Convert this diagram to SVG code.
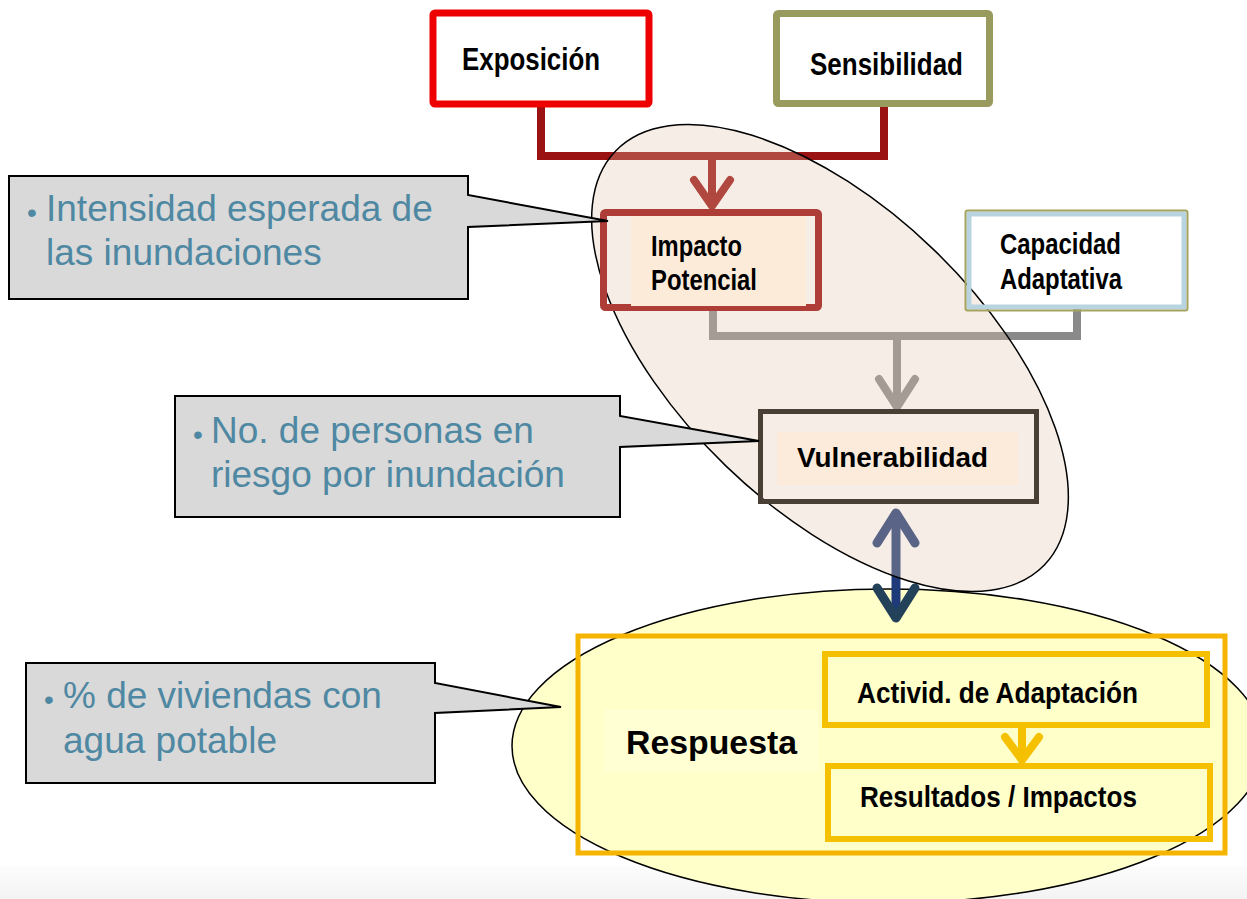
<svg xmlns="http://www.w3.org/2000/svg" width="1247" height="899" viewBox="0 0 1247 899">
<defs>
<style>
.lbl{font-family:"Liberation Sans",Arial,sans-serif;font-weight:bold;fill:#000}
.note{font-family:"Liberation Sans",Arial,sans-serif;fill:#4f88a2;font-size:37px}
.bul{font-family:"Liberation Sans",Arial,sans-serif;fill:#4f88a2;font-size:28px}
.callout{fill:#d9d9d9;stroke:#000;stroke-width:2}
.conn{fill:none;stroke-linejoin:miter}
.box{fill:none}
</style>
<linearGradient id="band" x1="0" y1="0" x2="0" y2="1">
<stop offset="0" stop-color="#fcfcfc"/>
<stop offset="1" stop-color="#f3f3f3"/>
</linearGradient>
<marker id="mRed" markerUnits="userSpaceOnUse" viewBox="-40 -30 60 60" markerWidth="60" markerHeight="60" refX="-4" refY="0" orient="auto" overflow="visible">
<path d="M-26,-18 L0,0 L-26,18" fill="none" stroke="#9b1212" stroke-width="8" stroke-linecap="round" stroke-linejoin="round"/>
</marker>
<marker id="mGray" markerUnits="userSpaceOnUse" viewBox="-40 -30 60 60" markerWidth="60" markerHeight="60" refX="-4" refY="0" orient="auto" overflow="visible">
<path d="M-28,-18 L0,0 L-28,18" fill="none" stroke="#8a8a8a" stroke-width="8" stroke-linecap="round" stroke-linejoin="round"/>
</marker>
<marker id="mNavyTop" markerUnits="userSpaceOnUse" viewBox="-40 -30 60 60" markerWidth="60" markerHeight="60" refX="-4" refY="0" orient="auto-start-reverse" overflow="visible">
<path d="M-30,-19 L0,0 L-30,19" fill="none" stroke="#1f3a78" stroke-width="9" stroke-linecap="round" stroke-linejoin="round"/>
</marker>
<marker id="mNavyBot" markerUnits="userSpaceOnUse" viewBox="-40 -30 60 60" markerWidth="60" markerHeight="60" refX="-4" refY="0" orient="auto" overflow="visible">
<path d="M-30,-19 L0,0 L-30,19" fill="none" stroke="#23425a" stroke-width="9" stroke-linecap="round" stroke-linejoin="round"/>
</marker>
<marker id="mYellow" markerUnits="userSpaceOnUse" viewBox="-40 -30 60 60" markerWidth="60" markerHeight="60" refX="-3" refY="0" orient="auto" overflow="visible">
<path d="M-23,-17 L0,0 L-23,17" fill="none" stroke="#f5c000" stroke-width="8" stroke-linecap="round" stroke-linejoin="round"/>
</marker>
</defs>

<rect x="0" y="866" width="1247" height="33" fill="url(#band)"/>

<ellipse id="zona-respuesta" cx="888" cy="746" rx="376" ry="157" fill="#ffffc9" stroke="#000" stroke-width="1.5"/>

<g id="connectors">
<path class="conn" d="M541,104 V156 H884 V104" stroke="#9b1212" stroke-width="8"/>
<path class="conn" d="M712,156 V202" stroke="#9b1212" stroke-width="8" marker-end="url(#mRed)"/>
<path class="conn" d="M713,309 V336 H1077 V309" stroke="#8a8a8a" stroke-width="8"/>
<path class="conn" d="M897,336 V403" stroke="#8a8a8a" stroke-width="8" marker-end="url(#mGray)"/>
<path class="conn" d="M896,517 V614" stroke="#1f3a78" stroke-width="9" marker-start="url(#mNavyTop)" marker-end="url(#mNavyBot)"/>
<path class="conn" d="M1022,728 V757" stroke="#f5c000" stroke-width="8" marker-end="url(#mYellow)"/>
</g>

<ellipse id="zona-vulnerabilidad" cx="830" cy="358" rx="298" ry="150" transform="rotate(44 830 358)" fill="#e0c8ad" fill-opacity="0.3" stroke="#000" stroke-width="1.5"/>

<g id="exposicion">
<rect x="433" y="13" width="216" height="91" rx="2" fill="#fff" stroke="#ee0000" stroke-width="7"/>
<text class="lbl" x="462" y="70" font-size="31" textLength="138" lengthAdjust="spacingAndGlyphs">Exposición</text>
</g>

<g id="sensibilidad">
<rect x="776.5" y="13.5" width="213" height="90" rx="2" fill="#fff" stroke="#999a5e" stroke-width="7"/>
<text class="lbl" x="810" y="75" font-size="31" textLength="153" lengthAdjust="spacingAndGlyphs">Sensibilidad</text>
</g>

<g id="impacto-potencial">
<rect class="box" x="603.5" y="212.5" width="215" height="95" rx="2" stroke="#ad3d36" stroke-width="7"/>
<rect x="631" y="216" width="175" height="90" fill="#fdebd9"/>
<text class="lbl" x="651" y="256" font-size="29" textLength="91" lengthAdjust="spacingAndGlyphs">Impacto</text>
<text class="lbl" x="651" y="290" font-size="29" textLength="106" lengthAdjust="spacingAndGlyphs">Potencial</text>
</g>

<g id="capacidad-adaptativa">
<rect class="box" x="969" y="214" width="215" height="93" stroke="#b9d4e1" stroke-width="5"/>
<rect class="box" x="965.5" y="210.5" width="222" height="100" rx="2" stroke="#a5a35f" stroke-width="2"/>
<text class="lbl" x="1000" y="254" font-size="29" textLength="121" lengthAdjust="spacingAndGlyphs">Capacidad</text>
<text class="lbl" x="1000" y="289" font-size="29" textLength="122" lengthAdjust="spacingAndGlyphs">Adaptativa</text>
</g>

<g id="vulnerabilidad">
<rect class="box" x="760.5" y="411.5" width="276" height="90" stroke="#4a3f35" stroke-width="5"/>
<rect x="777" y="432" width="241" height="53" fill="#fcebdb"/>
<text class="lbl" x="797" y="467" font-size="27" textLength="191" lengthAdjust="spacingAndGlyphs">Vulnerabilidad</text>
</g>

<g id="respuesta">
<rect class="box" x="578" y="636" width="647" height="217" stroke="#f5b400" stroke-width="5"/>
<rect x="604" y="710" width="214" height="62" fill="#ffffd3"/>
<text class="lbl" x="626" y="754" font-size="33" textLength="171" lengthAdjust="spacingAndGlyphs">Respuesta</text>
</g>

<g id="actividades">
<rect class="box" x="825" y="654" width="382" height="71" stroke="#f5c000" stroke-width="6"/>
<text class="lbl" x="857" y="703" font-size="29" textLength="281" lengthAdjust="spacingAndGlyphs">Activid. de Adaptación</text>
</g>

<g id="resultados">
<rect class="box" x="828" y="766" width="382" height="73" stroke="#f5c000" stroke-width="6"/>
<text class="lbl" x="860" y="807" font-size="29" textLength="277" lengthAdjust="spacingAndGlyphs">Resultados / Impactos</text>
</g>

<g id="nota-intensidad">
<path class="callout" d="M9,176 H468 V195 L608,221 L468,227 V299 H9 Z"/>
<text class="bul" x="27" y="222">•</text>
<text class="note" x="46" y="221">Intensidad esperada de</text>
<text class="note" x="46" y="265">las inundaciones</text>
</g>

<g id="nota-personas">
<path class="callout" d="M175,396 H620 V416 L759,441 L620,447 V517 H175 Z"/>
<text class="bul" x="193" y="444">•</text>
<text class="note" x="211" y="443">No. de personas en</text>
<text class="note" x="211" y="487">riesgo por inundación</text>
</g>

<g id="nota-viviendas">
<path class="callout" d="M26,663 H435 V683 L561,707 L435,713 V783 H26 Z"/>
<text class="bul" x="44" y="709">•</text>
<text class="note" x="63" y="708">% de viviendas con</text>
<text class="note" x="63" y="753">agua potable</text>
</g>
</svg>
